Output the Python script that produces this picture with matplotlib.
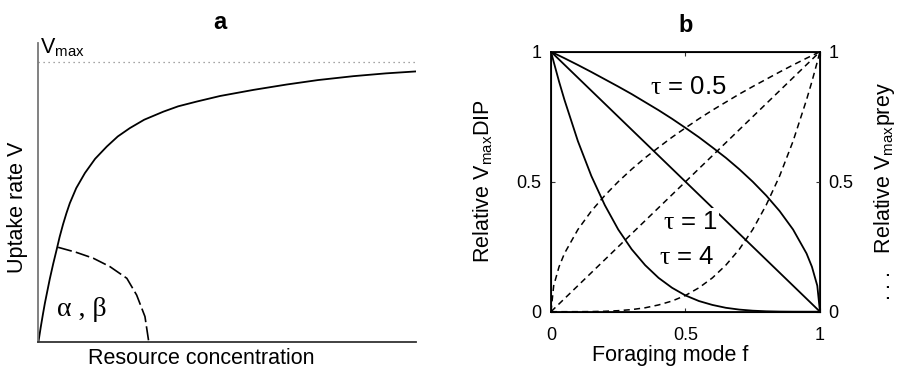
import matplotlib
matplotlib.use("Agg")
import matplotlib.pyplot as plt

plt.rcParams['font.family'] = ['Liberation Sans', 'DejaVu Sans']
plt.rcParams['mathtext.fontset'] = 'custom'
plt.rcParams['mathtext.rm'] = 'Liberation Serif'
plt.rcParams['mathtext.sf'] = 'Liberation Sans'

# panel a: uptake curve (resource, V / Vmax)
resource = [0, 0.006, 0.012, 0.017, 0.024, 0.03, 0.039, 0.048, 0.056, 0.065,
            0.074, 0.083, 0.1, 0.123, 0.15, 0.181, 0.21, 0.242, 0.28, 0.331,
            0.37, 0.419, 0.481, 0.57, 0.657, 0.74, 0.834, 0.92, 1.0]
uptake = [0, 0.052, 0.1, 0.138, 0.185, 0.225, 0.279, 0.329, 0.375, 0.42,
          0.46, 0.496, 0.55, 0.604, 0.655, 0.699, 0.735, 0.765, 0.795, 0.824,
          0.843, 0.86, 0.88, 0.902, 0.921, 0.937, 0.951, 0.961, 0.968]
vmax = 1.0

# dashed arc marking the initial slope region
arc_x = [0.052, 0.1, 0.145, 0.189, 0.234, 0.26, 0.282, 0.292]
arc_y = [0.338, 0.32, 0.299, 0.269, 0.227, 0.167, 0.09, 0.0]

# panel b: relative Vmax vs foraging mode
f = [0, 0.01, 0.03, 0.05, 0.1, 0.15, 0.2, 0.25, 0.3, 0.35, 0.4, 0.45, 0.5,
     0.55, 0.6, 0.65, 0.7, 0.75, 0.8, 0.85, 0.9, 0.95, 0.97, 0.99, 1.0]
dip_tau05 = [1, 0.995, 0.985, 0.975, 0.949, 0.922, 0.894, 0.866, 0.837, 0.806,
             0.775, 0.742, 0.707, 0.671, 0.632, 0.592, 0.548, 0.5, 0.447, 0.387,
             0.316, 0.224, 0.173, 0.1, 0]
dip_tau1 = [1, 0.99, 0.97, 0.95, 0.9, 0.85, 0.8, 0.75, 0.7, 0.65, 0.6, 0.55, 0.5,
            0.45, 0.4, 0.35, 0.3, 0.25, 0.2, 0.15, 0.1, 0.05, 0.03, 0.01, 0]
dip_tau4 = [1, 0.961, 0.885, 0.815, 0.656, 0.522, 0.41, 0.316, 0.24, 0.179, 0.13,
            0.092, 0.0625, 0.041, 0.026, 0.015, 0.0081, 0.0039, 0.0016, 0.0005,
            0.0001, 0, 0, 0, 0]
prey_tau05 = [0, 0.1, 0.173, 0.224, 0.316, 0.387, 0.447, 0.5, 0.548, 0.592, 0.632,
              0.671, 0.707, 0.742, 0.775, 0.806, 0.837, 0.866, 0.894, 0.922,
              0.949, 0.975, 0.985, 0.995, 1]
prey_tau1 = [0, 0.01, 0.03, 0.05, 0.1, 0.15, 0.2, 0.25, 0.3, 0.35, 0.4, 0.45, 0.5,
             0.55, 0.6, 0.65, 0.7, 0.75, 0.8, 0.85, 0.9, 0.95, 0.97, 0.99, 1]
prey_tau4 = [0, 0, 0, 0, 0.0001, 0.0005, 0.0016, 0.0039, 0.0081, 0.015, 0.026,
             0.041, 0.0625, 0.092, 0.13, 0.179, 0.24, 0.316, 0.41, 0.522, 0.656,
             0.815, 0.885, 0.961, 1]
tau_labels = ['0.5', '1', '4']
tau_pos = [(0.51, 0.865), (0.517, 0.346), (0.504, 0.212)]

fig = plt.figure(figsize=(8.99, 3.67), dpi=100)

# ---- panel a ----
ax = fig.add_axes([0.0428, 0.069, 0.42, 0.814])
ax.plot(resource, uptake, color='black', lw=1.3)
ax.plot(arc_x, arc_y, color='black', lw=1.2, dashes=(8.5, 2.5))
ax.axhline(vmax, color='#888888', lw=0.9, ls=(0, (1, 3)))
ax.set_xlim(0, 1)
ax.set_ylim(0, 1.07)
ax.set_xticks([])
ax.set_yticks([])
for side in ['top', 'right']:
    ax.spines[side].set_visible(False)
ax.spines['left'].set_color('#777777')
ax.spines['left'].set_linewidth(1.3)
ax.spines['bottom'].set_color('#333333')
ax.spines['bottom'].set_linewidth(1.3)
ax.set_xlabel('Resource concentration', fontsize=15.5)
ax.xaxis.set_label_coords(0.43, -0.02)
ax.set_ylabel('Uptake rate V', fontsize=15.5)
ax.yaxis.set_label_coords(-0.027, 0.449)
ax.text(0.004, 1.012, r'V$_{\mathsf{max}}$', fontsize=15.5, va='bottom', ha='left')
ax.text(0.049, 0.114, 'α , β', fontsize=20, family=['Liberation Serif'],
        va='center', ha='left')
ax.set_title('a', fontsize=17, fontweight='bold', x=0.48, pad=10)

# ---- panel b ----
bx = fig.add_axes([0.6129, 0.1507, 0.2992, 0.7084])
for ys in [dip_tau05, dip_tau1, dip_tau4]:
    bx.plot(f, ys, color='black', lw=1.3)
for ys in [prey_tau05, prey_tau1, prey_tau4]:
    bx.plot(f, ys, color='black', lw=1.1, dashes=(4, 2.8))
for lab, (tx, ty) in zip(tau_labels, tau_pos):
    bx.text(tx, ty, r'$\mathrm{\tau}$ = ' + lab, fontsize=18.5, ha='center',
            va='center', bbox=dict(facecolor='white', edgecolor='none', pad=1.0))
bx.set_xlim(0, 1)
bx.set_ylim(0, 1)
bx.set_xticks([0, 0.5, 1])
bx.set_xticklabels(['0', '0.5', '1'])
bx.set_yticks([0, 0.5, 1])
bx.set_yticklabels(['0', '0.5', '1'])
bx.tick_params(direction='in', length=3, labelsize=13, top=True,
               color='#333333')
bx.tick_params(axis='y', pad=7)
bx.tick_params(axis='x', pad=11)
for s in bx.spines.values():
    s.set_linewidth(1.3)
bx.set_xlabel('Foraging mode f', fontsize=15.5)
bx.xaxis.set_label_coords(0.442, -0.128)
bx.set_ylabel(r'Relative V$_{\mathsf{max}}$DIP', fontsize=15.5)
bx.yaxis.set_label_coords(-0.208, 0.503)
bx.set_title('b', fontsize=17, fontweight='bold', pad=14)

b2 = bx.twinx()
b2.set_ylim(0, 1)
b2.set_yticks([0, 0.5, 1])
b2.set_yticklabels(['0', '0.5', '1'])
b2.tick_params(direction='in', length=3, labelsize=13, pad=6, color='#333333')
b2.set_ylabel(r'. . .   Relative V$_{\mathsf{max}}$prey', fontsize=15.5)
b2.yaxis.set_label_coords(1.192, 0.463)

fig.savefig('out.png', dpi=100)
